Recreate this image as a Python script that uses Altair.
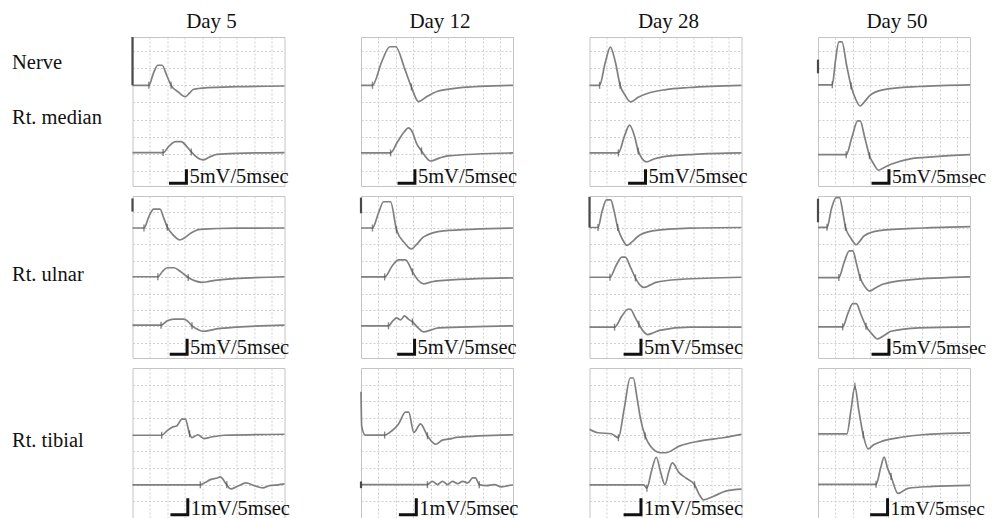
import altair as alt
import pandas as pd

SERIF = "Liberation Serif"

# ---------------- text content ----------------
DAYS = ["Day 5", "Day 12", "Day 28", "Day 50"]
ROW_LABELS = ["Nerve", "Rt. median", "Rt. ulnar", "Rt. tibial"]
ROW_LABEL_ROW = [0, 0, 1, 2]
ROW_LABEL_LEVEL = [5.93, 2.72, 3.75, 3.24]
SCALE_TEXT = ["5mV/5msec", "5mV/5msec", "1mV/5msec"]
# end of the 5 msec scale bar (ms) for each row / column
SCALE_BAR_END = [[15.5, 15.5, 16.1, 20.4],
                 [15.7, 15.4, 14.8, 20.4],
                 [15.9, 15.9, 14.8, 20.0]]

# ---------------- traces (t in ms, v in grid divisions) ----------------
# Rt. median
MED5_A_T = [0, 4.7, 6.0, 7.3, 8.5, 9.8, 11.1, 13.2, 15.2, 16.4, 17.6, 21.5, 30, 43.7]
MED5_A_V = [5.0, 5.0, 5.7, 6.17, 6.17, 5.6, 5.0, 4.6, 4.34, 4.55, 4.77, 4.86, 4.92, 4.96]
MED5_A_M = [1, 6]
MED5_B_T = [0, 8.8, 10.5, 12.4, 14.0, 15.5, 16.9, 18.5, 20.3, 22, 24.3, 30, 43.7]
MED5_B_V = [1.07, 1.07, 1.45, 1.71, 1.71, 1.45, 1.11, 0.8, 0.64, 0.8, 0.97, 1.03, 1.07]
MED5_B_M = [1, 6]

MED12_A_T = [0, 3.3, 6.0, 8.3, 10.0, 12.5, 14.5, 16.5, 19, 22, 28, 43.7]
MED12_A_V = [5.0, 5.0, 6.4, 7.25, 7.25, 6.0, 4.9, 4.05, 4.35, 4.65, 4.85, 5.0]
MED12_A_M = [1, 6]
MED12_B_T = [0, 8.5, 10.5, 12.5, 13.6, 14.7, 16, 17.4, 20, 22.5, 25, 43.7]
MED12_B_V = [1.05, 1.05, 1.7, 2.3, 2.51, 2.3, 1.6, 1.17, 0.58, 0.75, 0.88, 1.05]
MED12_B_M = [1, 7]

MED28_A_T = [0, 2.9, 4.5, 6.0, 7.5, 8.8, 10.3, 11.8, 14, 17, 22, 28.5, 43.7]
MED28_A_V = [5.0, 5.0, 6.3, 7.23, 6.3, 5.0, 4.4, 4.03, 4.3, 4.55, 4.75, 4.87, 5.0]
MED28_A_M = [1, 5]
MED28_B_T = [0, 8.3, 10.0, 11.5, 13, 14.0, 16.4, 18.5, 21, 30, 43.7]
MED28_B_V = [1.05, 1.05, 2.0, 2.68, 2.0, 1.17, 0.53, 0.7, 0.82, 0.97, 1.05]
MED28_B_M = [1, 5]

MED50_A_T = [0, 4.1, 5.0, 6.0, 6.9, 8.2, 9.5, 10.8, 12.1, 13.4, 14.8, 18.6, 29, 43.7]
MED50_A_V = [5.03, 5.03, 6.4, 7.53, 7.53, 6.2, 4.97, 4.2, 3.79, 4.05, 4.38, 4.73, 4.93, 5.03]
MED50_A_M = [1, 6]
MED50_B_T = [0, 8.1, 9.8, 11.4, 12.1, 13.5, 14.8, 16.2, 17.4, 19, 21, 26.2, 33.8, 43.7]
MED50_B_V = [0.95, 0.95, 2.0, 2.92, 2.92, 1.9, 0.89, 0.35, 0.04, 0.2, 0.39, 0.69, 0.83, 0.95]
MED50_B_M = [1, 6]

# Rt. ulnar
ULN5_A_T = [0, 3.3, 4.7, 6.1, 7.9, 9.0, 10, 11.8, 13.6, 15, 16.7, 19.5, 30, 43.7]
ULN5_A_V = [7.0, 7.0, 7.7, 8.15, 8.15, 7.6, 7.05, 6.55, 6.27, 6.4, 6.68, 6.92, 6.99, 7.0]
ULN5_A_M = [1, 6]
ULN5_B_T = [0, 7.3, 8.6, 10, 11.9, 13.8, 16, 18, 20, 22, 24.3, 43.7]
ULN5_B_V = [4.03, 4.03, 4.35, 4.58, 4.58, 4.35, 3.99, 3.78, 3.69, 3.75, 3.83, 4.03]
ULN5_B_M = [1, 6]
ULN5_C_T = [0, 8.2, 10, 11.9, 14.8, 16, 17.1, 18.8, 20.4, 22.5, 25.3, 43.7]
ULN5_C_V = [1.08, 1.08, 1.35, 1.45, 1.45, 1.3, 1.04, 0.82, 0.71, 0.78, 0.88, 1.08]
ULN5_C_M = [1, 6]

ULN12_A_T = [0, 3.3, 5.0, 6.5, 8.5, 10.2, 12.5, 14.5, 16, 18, 23.7, 43.7]
ULN12_A_V = [7.0, 7.0, 7.9, 8.6, 8.6, 6.9, 6.1, 5.73, 6.0, 6.46, 6.83, 7.0]
ULN12_A_M = [1, 5]
ULN12_B_T = [0, 6.8, 9, 10.8, 12.8, 14.8, 16.5, 18, 20, 22, 43.7]
ULN12_B_V = [4.02, 4.02, 4.7, 5.06, 5.06, 4.33, 3.8, 3.6, 3.7, 3.78, 3.96]
ULN12_B_M = [1, 5]
ULN12_C_T = [0, 7.9, 9.2, 10.2, 11.4, 12.5, 13.6, 14.8, 16.5, 18, 20, 22.3, 43.7]
ULN12_C_V = [1.04, 1.04, 1.35, 1.52, 1.4, 1.65, 1.45, 1.28, 0.9, 0.67, 0.78, 0.91, 1.04]
ULN12_C_M = [1, 7]

ULN28_A_T = [0, 2.45, 3.6, 4.9, 6.1, 7.1, 8.1, 9.5, 10.8, 12.2, 13.7, 18.1, 28.9, 43.7]
ULN28_A_V = [7.03, 7.03, 8.0, 8.71, 8.71, 8.0, 7.03, 6.3, 5.94, 6.15, 6.45, 6.82, 6.99, 7.03]
ULN28_A_M = [1, 6]
ULN28_B_T = [0, 5.9, 7.6, 9.3, 10.3, 11.8, 13.2, 14.4, 15.7, 17.4, 19.1, 26, 43.7]
ULN28_B_V = [4.0, 4.0, 4.7, 5.23, 5.23, 4.6, 3.96, 3.55, 3.38, 3.52, 3.69, 3.87, 4.0]
ULN28_B_M = [1, 6]
ULN28_C_T = [0, 7.2, 9.2, 11.1, 11.8, 13.0, 14.2, 15.5, 16.7, 18.4, 20.1, 28.9, 43.7]
ULN28_C_V = [0.96, 0.96, 1.6, 2.05, 2.05, 1.6, 1.13, 0.7, 0.51, 0.62, 0.76, 0.96, 0.96]
ULN28_C_M = [1, 6]

ULN50_A_T = [0, 2.6, 3.9, 5.2, 6.2, 7.1, 7.9, 9.4, 11, 12.2, 13.3, 17.6, 30, 43.7]
ULN50_A_V = [7.04, 7.04, 8.2, 8.85, 8.85, 8.0, 7.04, 6.4, 5.98, 6.25, 6.53, 6.84, 7.0, 7.08]
ULN50_A_M = [1, 6]
ULN50_B_T = [0, 6.0, 7.5, 9.0, 10.0, 11.1, 12.1, 13.4, 14.8, 16.5, 18.6, 26.2, 43.7]
ULN50_B_V = [3.98, 3.98, 4.9, 5.61, 5.61, 4.8, 3.98, 3.45, 3.16, 3.35, 3.57, 3.84, 4.02]
ULN50_B_M = [1, 6]
ULN50_C_T = [0, 7.1, 8.6, 10, 11, 12.4, 13.8, 15.5, 17.1, 19, 21, 29, 43.7]
ULN50_C_V = [0.98, 0.98, 1.8, 2.39, 2.39, 1.7, 1.02, 0.55, 0.24, 0.45, 0.71, 0.92, 0.98]
ULN50_C_M = [1, 6]

# Rt. tibial
TIB5_A_T = [0, 8.4, 9.9, 11.3, 12.8, 14.2, 15.2, 16.4, 17.1, 18.8, 20.5, 22.4, 26.3, 43.7]
TIB5_A_V = [3.97, 3.97, 4.23, 4.44, 4.54, 4.94, 4.94, 4.06, 3.83, 4.0, 3.77, 3.85, 3.97, 4.03]
TIB5_A_M = [1, 7]
TIB5_B_T = [0, 19.5, 21, 22.4, 24.4, 25.2, 27.1, 28.2, 30.2, 32.6, 35, 37.4, 39.4, 41.8, 43.7]
TIB5_B_V = [1.0, 1.0, 1.15, 1.31, 1.41, 1.47, 1.0, 0.75, 0.91, 1.11, 0.95, 0.81, 0.95, 1.0, 1.05]
TIB5_B_M = [1, 6]

TIB12_A_T = [0, 0.2, 1.2, 6.8, 8.9, 10.8, 12.8, 13.7, 15.2, 17.1, 19.1, 21.5, 23.4, 26.3, 27.3, 43.7]
TIB12_A_V = [6.57, 4.5, 3.98, 3.98, 4.24, 4.65, 5.35, 5.35, 4.14, 4.65, 3.94, 3.43, 3.68, 3.78, 3.84, 4.0]
TIB12_A_M = [3, 10]
TIB12_B_T = [0, 19.1, 20.5, 22, 23.4, 24.9, 26.3, 27.8, 29.2, 30.7, 32.1, 32.9, 34, 36, 38.4, 40.3, 42.3, 43.7]
TIB12_B_V = [1.01, 1.01, 1.21, 1.01, 1.21, 1.01, 1.21, 1.07, 1.21, 1.11, 1.41, 1.41, 1.01, 0.95, 1.01, 0.87, 0.95, 0.99]
TIB12_B_M = [1, 12]

TIB28_A_T = [0, 2.4, 6.3, 8.3, 10, 11.7, 12.6, 13.6, 14.6, 16, 17.5, 20.4, 21.9, 25.8, 31.6, 38.4, 43.7]
TIB28_A_V = [4.33, 4.12, 4.06, 3.82, 5.6, 7.4, 7.4, 6.3, 5.03, 3.92, 3.32, 2.92, 2.92, 3.32, 3.62, 3.82, 4.02]
TIB28_A_M = [3, 9]
TIB28_B_T = [0, 15.6, 16.5, 17.8, 19.2, 20.4, 21.7, 22.8, 23.8, 25.8, 27.7, 30.2, 31.6, 32.8, 35.5, 39.4, 43.7]
TIB28_B_V = [1.0, 1.0, 0.8, 1.8, 2.65, 1.8, 1.0, 1.8, 2.31, 1.71, 1.41, 1.0, 0.4, 0.1, 0.3, 0.64, 0.74]
TIB28_B_M = [2, 11]

TIB50_A_T = [0, 8.3, 9.5, 10.6, 11.7, 13, 14.4, 16, 18.7, 24, 30.2, 43.7]
TIB50_A_V = [4.05, 4.05, 5.5, 6.9, 5.5, 4.0, 3.15, 3.4, 3.63, 3.85, 4.0, 4.11]
TIB50_A_M = [3, 5]
TIB50_B_T = [0, 16.7, 18, 19, 20, 21, 23, 25.9, 33, 43.7]
TIB50_B_V = [1.03, 1.03, 2.0, 2.66, 2.0, 1.5, 0.48, 0.79, 0.9, 0.97]
TIB50_B_M = [1, 5]

# stimulus artifacts at the left edge: row, col, top, bottom (divisions)
ART_ROW = [0, 0, 1, 1, 1, 1, 2]
ART_COL = [0, 3, 0, 1, 2, 3, 1]
ART_TOP = [7.82, 6.5, 8.8, 8.85, 8.9, 8.78, 1.2]
ART_BOTTOM = [5.0, 5.7, 8.0, 7.9, 7.03, 7.35, 0.8]

PANEL_TRACES = {
    (0, 0): [(MED5_A_T, MED5_A_V, MED5_A_M), (MED5_B_T, MED5_B_V, MED5_B_M)],
    (0, 1): [(MED12_A_T, MED12_A_V, MED12_A_M), (MED12_B_T, MED12_B_V, MED12_B_M)],
    (0, 2): [(MED28_A_T, MED28_A_V, MED28_A_M), (MED28_B_T, MED28_B_V, MED28_B_M)],
    (0, 3): [(MED50_A_T, MED50_A_V, MED50_A_M), (MED50_B_T, MED50_B_V, MED50_B_M)],
    (1, 0): [(ULN5_A_T, ULN5_A_V, ULN5_A_M), (ULN5_B_T, ULN5_B_V, ULN5_B_M), (ULN5_C_T, ULN5_C_V, ULN5_C_M)],
    (1, 1): [(ULN12_A_T, ULN12_A_V, ULN12_A_M), (ULN12_B_T, ULN12_B_V, ULN12_B_M), (ULN12_C_T, ULN12_C_V, ULN12_C_M)],
    (1, 2): [(ULN28_A_T, ULN28_A_V, ULN28_A_M), (ULN28_B_T, ULN28_B_V, ULN28_B_M), (ULN28_C_T, ULN28_C_V, ULN28_C_M)],
    (1, 3): [(ULN50_A_T, ULN50_A_V, ULN50_A_M), (ULN50_B_T, ULN50_B_V, ULN50_B_M), (ULN50_C_T, ULN50_C_V, ULN50_C_M)],
    (2, 0): [(TIB5_A_T, TIB5_A_V, TIB5_A_M), (TIB5_B_T, TIB5_B_V, TIB5_B_M)],
    (2, 1): [(TIB12_A_T, TIB12_A_V, TIB12_A_M), (TIB12_B_T, TIB12_B_V, TIB12_B_M)],
    (2, 2): [(TIB28_A_T, TIB28_A_V, TIB28_A_M), (TIB28_B_T, TIB28_B_V, TIB28_B_M)],
    (2, 3): [(TIB50_A_T, TIB50_A_V, TIB50_A_M), (TIB50_B_T, TIB50_B_V, TIB50_B_M)],
}

# ---------------- layout / style ----------------
T_MAX = 43.7
GRID_T = [5, 10, 15, 20, 25, 30, 35, 40]
ROW_HEIGHT = [149, 162, 151]
ROW_DOMAIN = [[-0.88, 7.82], [-0.92, 8.95], [-1.05, 8.0]]
ROW_NGRID = [8, 9, 8]
BAR_BOTTOM = [-0.72, -0.69, -0.79]
BAR_TOP = [0.1, 0.26, 0.2]
PANEL_W = 152
LABEL_W = 47
COL_GAP = 76.5
ROW_GAP = 10
HEADER_H = 18
TRACE_COLOR = "#808080"
GRID_COLOR = "#cfcfcf"
FRAME_COLOR = "#c4c4c4"
LABEL_SIZE = 20.5
HEADER_SIZE = 21
SCALE_SIZE = [20.5, 20.5, 20.5, 19.5]


def x_enc():
    return alt.X("t:Q", scale=alt.Scale(domain=[0, T_MAX], nice=False, zero=False),
                 axis=alt.Axis(values=GRID_T, grid=True, gridColor=GRID_COLOR, gridDash=[2, 2],
                               gridWidth=1, labels=False, ticks=False, domain=False, title=None,
                               minExtent=0, maxExtent=0))


def y_enc(r):
    return alt.Y("v:Q", scale=alt.Scale(domain=ROW_DOMAIN[r], nice=False, zero=False),
                 axis=alt.Axis(values=list(range(ROW_NGRID[r])), grid=True, gridColor=GRID_COLOR,
                               gridDash=[2, 2], gridWidth=1, labels=False, ticks=False, domain=False,
                               title=None, minExtent=0, maxExtent=0))


def panel(r, c):
    rows, marks = [], []
    for k, (ts, vs, ms) in enumerate(PANEL_TRACES[(r, c)]):
        for t, v in zip(ts, vs):
            rows.append({"trace": k, "t": t, "v": v})
        for i in ms:
            marks.append({"t": ts[i], "v": vs[i]})
    df = pd.DataFrame(rows)
    layers = [
        alt.Chart(df).mark_line(color=TRACE_COLOR, strokeWidth=1.7, interpolate="monotone")
        .encode(x=x_enc(), y=y_enc(r), detail="trace:N")
    ]
    art = [{"a": i, "t": 0.0, "v": v}
           for i in range(len(ART_ROW)) if ART_ROW[i] == r and ART_COL[i] == c
           for v in (ART_TOP[i], ART_BOTTOM[i])]
    if art:
        layers.append(
            alt.Chart(pd.DataFrame(art)).mark_line(color="#4a4a4a", strokeWidth=2.2)
            .encode(x=x_enc(), y=y_enc(r), detail="a:N"))
    layers.append(
        alt.Chart(pd.DataFrame(marks)).mark_tick(orient="vertical", size=7, thickness=1.4, color="#555555")
        .encode(x=x_enc(), y=y_enc(r)))
    te = SCALE_BAR_END[r][c]
    bar = pd.DataFrame({"k": [0, 1, 2], "t": [te - 5, te, te],
                        "v": [BAR_BOTTOM[r], BAR_BOTTOM[r], BAR_TOP[r]]})
    layers.append(
        alt.Chart(bar).mark_line(color="#111111", strokeWidth=3, strokeJoin="miter", strokeCap="butt")
        .encode(x=x_enc(), y=y_enc(r), order="k:Q"))
    lab = pd.DataFrame({"t": [te], "v": [BAR_BOTTOM[r]], "s": [SCALE_TEXT[r]]})
    layers.append(
        alt.Chart(lab).mark_text(align="left", baseline="alphabetic", dx=3, font=SERIF,
                                 fontSize=SCALE_SIZE[c], color="#111111")
        .encode(x=x_enc(), y=y_enc(r), text="s:N"))
    return alt.layer(*layers).properties(
        width=PANEL_W, height=ROW_HEIGHT[r],
        view=alt.ViewBackground(stroke=FRAME_COLOR, strokeWidth=1))


def label_view(r):
    idx = [i for i in range(len(ROW_LABELS)) if ROW_LABEL_ROW[i] == r]
    df = pd.DataFrame({"s": [ROW_LABELS[i] for i in idx], "v": [ROW_LABEL_LEVEL[i] for i in idx]})
    return alt.Chart(df).mark_text(align="left", baseline="alphabetic", font=SERIF, fontSize=LABEL_SIZE,
                                   color="#111111").encode(
        x=alt.value(3),
        y=alt.Y("v:Q", scale=alt.Scale(domain=ROW_DOMAIN[r], nice=False, zero=False), axis=None),
        text="s:N").properties(width=LABEL_W, height=ROW_HEIGHT[r],
                               view=alt.ViewBackground(stroke="transparent"))


def header_view(text, w):
    return alt.Chart(pd.DataFrame({"s": [text]})).mark_text(
        align="center", baseline="alphabetic", font=SERIF, fontSize=HEADER_SIZE, color="#111111").encode(
        x=alt.value(w / 2 + 3), y=alt.value(18.5), text="s:N").properties(
        width=w, height=HEADER_H, view=alt.ViewBackground(stroke="transparent"))


views = [header_view("", LABEL_W)] + [header_view(d, PANEL_W) for d in DAYS]
for r in range(3):
    views.append(label_view(r))
    views.extend(panel(r, c) for c in range(4))

chart = alt.concat(*views, columns=5, spacing=alt.RowColnumber(row=ROW_GAP, column=COL_GAP),
                   bounds="flush").properties(padding=0, background="white")

chart.save("out.html", embed_options={"renderer": "svg", "actions": False})
